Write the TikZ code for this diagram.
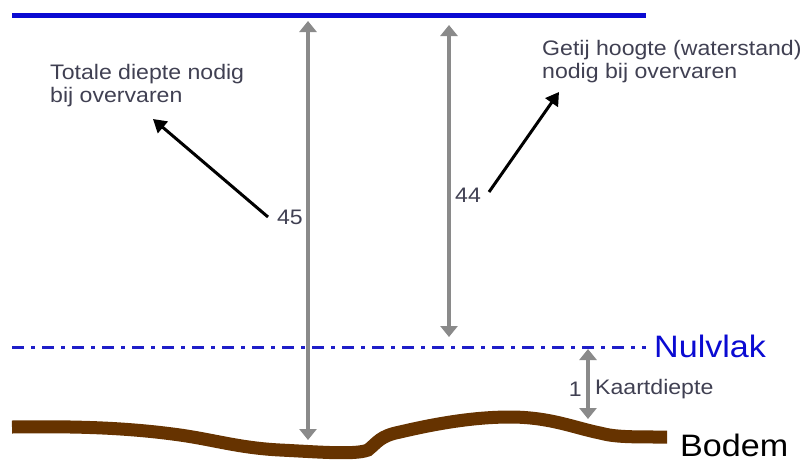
\documentclass[tikz,border=0pt]{standalone}
\usepackage{fontspec}
\setmainfont[FakeStretch=1.1]{Liberation Sans}
\usetikzlibrary{arrows.meta}
\definecolor{waterblue}{RGB}{10,10,210}
\definecolor{nulblue}{RGB}{30,30,200}
\definecolor{dimgray}{RGB}{138,138,138}
\definecolor{txtgray}{RGB}{64,64,82}
\definecolor{bodembrown}{RGB}{102,51,0}
\tikzset{
  dimline/.style={draw=dimgray, line width=3.5pt, {Triangle[width=17pt,length=11pt]}-{Triangle[width=17pt,length=11pt]}},
  pointer/.style={draw=black, line width=3pt, -{Triangle[width=15pt,length=13pt]}},
  lbl/.style={inner sep=0pt, text=txtgray, font=\fontsize{21}{23}\selectfont, align=left},
  biglbl/.style={inner sep=0pt, font=\fontsize{31}{34}\selectfont},
}
\begin{document}
\begin{tikzpicture}[x=1pt,y=-1pt]
\useasboundingbox (0,0) rectangle (802,464);
% water surface
\coordinate (wl) at (12,15);
\coordinate (wr) at (646,15);
\draw[waterblue, line width=5pt] (wl) -- (wr);
% chart datum
\coordinate (nl) at (12,347);
\coordinate (nr) at (646,347);
\draw[nulblue, line width=3pt, dash pattern=on 12pt off 7pt on 4pt off 7pt] (nl) -- (nr);
\node[biglbl, text=waterblue, anchor=west] (nulvlak) at (654,346) {Nulvlak};
% bottom
\draw[bodembrown, line width=13pt, line cap=butt]
  (12,427) .. controls (80,426) and (130,428) .. (180,435)
  .. controls (215,440) and (240,448) .. (280,450)
  .. controls (320,452) and (355,455) .. (368,450)
  .. controls (378,442) and (380,436) .. (400,432)
  .. controls (430,425) and (470,417) .. (510,417)
  .. controls (550,417) and (575,428) .. (600,433)
  .. controls (615,437) and (630,437) .. (667,437);
\node[biglbl, text=black, anchor=west] (bodem) at (680,445) {Bodem};
% dimension arrows
\coordinate (a45t) at (308,21);
\coordinate (a45b) at (308,440);
\draw[dimline] (a45t) -- (a45b);
\node[lbl, anchor=east] (n45) at (303,217) {45};
\coordinate (a44t) at (449,25);
\coordinate (a44b) at (449,337);
\draw[dimline] (a44t) -- (a44b);
\node[lbl, anchor=west] (n44) at (455,195) {44};
\coordinate (a1t) at (588,349);
\coordinate (a1b) at (588,419);
\draw[dimline] (a1t) -- (a1b);
\node[lbl, anchor=east] (n1) at (582,389) {1};
\node[lbl, anchor=west] (kaart) at (595,389) {Kaartdiepte};
% annotations
\node[lbl, anchor=west] (totale) at (50,86) {Totale diepte nodig\\bij overvaren};
\node[lbl, anchor=west] (getij) at (542,62) {Getij hoogte (waterstand)\\nodig bij overvaren};
\coordinate (p1s) at (268,217);
\coordinate (p1e) at (153,119);
\draw[pointer] (p1s) -- (p1e);
\coordinate (p2s) at (489,192);
\coordinate (p2e) at (559,92);
\draw[pointer] (p2s) -- (p2e);
\end{tikzpicture}
\end{document}
